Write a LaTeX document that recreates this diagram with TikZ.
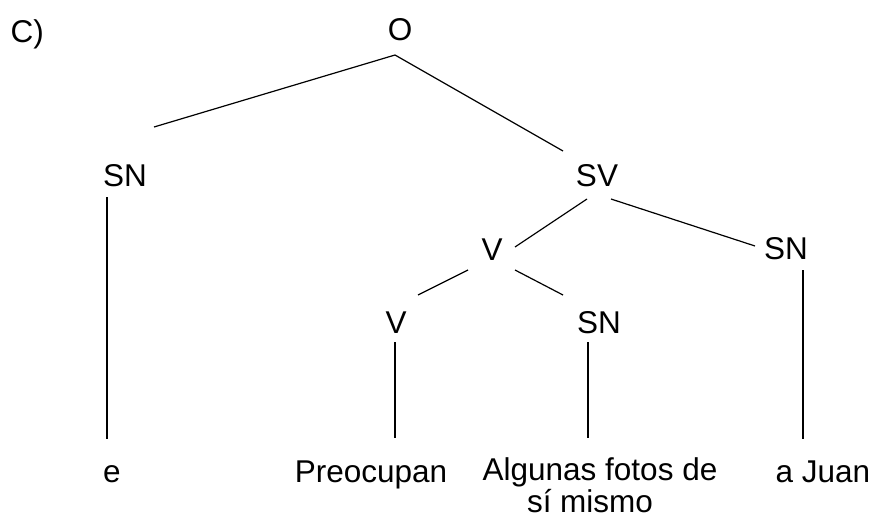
\documentclass[tikz,border=0pt]{standalone}
\usepackage{fontspec}
\setmainfont{Liberation Sans}
\begin{document}
\begin{tikzpicture}[x=1pt,y=-1pt,line width=1.2pt]
\tikzstyle{every node}+=[inner sep=0pt,anchor=base,font=\fontsize{31.5}{32.5}\selectfont]
\useasboundingbox (0,0) rectangle (872,520);
\node [anchor=base west] (part) at (10,42) {C)};
\node (o) at (400,40) {O};
\node (snl) at (125,186) {SN};
\node (sv) at (597,186) {SV};
\node (v) at (492,260) {V};
\node (snr) at (786,259) {SN};
\node (vl) at (396,333) {V};
\node (snm) at (599,333) {SN};
\node (e) at (112,482) {e};
\node (preo) at (371,482) {Preocupan};
\node [anchor=north,align=center] (fotos) at (600,457) {Algunas fotos de\\sí mismo\kern20pt};
\node (juan) at (823,482) {a Juan};
\draw [black] ([shift={(-5,15)}]o.base) -- ([shift={(29,-59)}]snl.base);
\draw [black] ([shift={(-5,15)}]o.base) -- ([shift={(-34,-35)}]sv.base);
\draw [black] ([shift={(-18,11)}]snl.base) -- ([shift={(-5,-43)}]e.base);
\draw [black] ([shift={(-10,13)}]sv.base) -- ([shift={(23,-13)}]v.base);
\draw [black] ([shift={(14,13)}]sv.base) -- ([shift={(-31,-13)}]snr.base);
\draw [black] ([shift={(-24,10)}]v.base) -- ([shift={(22,-38)}]vl.base);
\draw [black] ([shift={(23,10)}]v.base) -- ([shift={(-36,-38)}]snm.base);
\draw [black] ([shift={(17,11)}]snr.base) -- ([shift={(-20,-43)}]juan.base);
\draw [black] ([shift={(-1,9)}]vl.base) -- ([shift={(24,-44)}]preo.base);
\draw [black] ([shift={(-11,9)}]snm.base) -- ([shift={(-12,-19)}]fotos.north);
\end{tikzpicture}
\end{document}
